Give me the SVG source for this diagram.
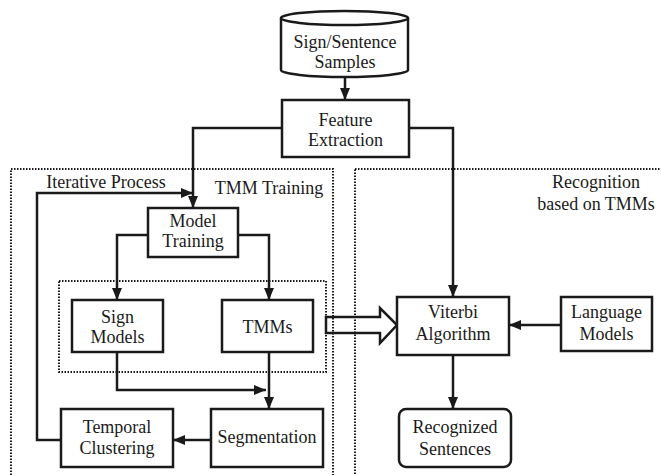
<svg xmlns="http://www.w3.org/2000/svg" width="661" height="475" viewBox="0 0 661 475">
<defs>
<marker id="ah" viewBox="0 0 12 10" refX="12" refY="5" markerWidth="12" markerHeight="10" markerUnits="userSpaceOnUse" orient="auto">
<path d="M0,0 L12,5 L0,10 Z" fill="#1a1a1a"/>
</marker>
</defs>
<style>
.box{fill:#fff;stroke:#1a1a1a;stroke-width:2.5}
.ln{fill:none;stroke:#1a1a1a;stroke-width:2.5}
.dot{fill:none;stroke:#1a1a1a;stroke-width:2;stroke-dasharray:1.5 1.5}
text{font-family:"Liberation Serif","Times New Roman",serif;font-size:18px;fill:#1a1a1a;text-anchor:middle}
</style>
<rect width="661" height="475" fill="#fff"/>
<g id="regions">
<rect class="dot" x="11" y="169" width="322" height="320"/>
<rect class="dot" x="355" y="169" width="320" height="320"/>
<rect class="dot" x="59" y="281" width="267" height="91"/>
<text x="106" y="188">Iterative Process</text>
<text x="269" y="194">TMM Training</text>
<text x="596" y="188">Recognition</text>
<text x="596" y="210">based on TMMs</text>
</g>
<g id="connectors">
<line class="ln" x1="345" y1="78" x2="345" y2="100" marker-end="url(#ah)"/>
<polyline class="ln" points="282,128 193,128 193,208" marker-end="url(#ah)"/>
<polyline class="ln" points="409,128 453,128 453,297" marker-end="url(#ah)"/>
<polyline class="ln" points="61,440 37,440 37,193 193,193" marker-end="url(#ah)"/>
<polyline class="ln" points="148,235 117,235 117,300" marker-end="url(#ah)"/>
<polyline class="ln" points="238,235 269,235 269,300" marker-end="url(#ah)"/>
<polyline class="ln" points="117,352 117,390 266,390" marker-end="url(#ah)"/>
<line class="ln" x1="269" y1="352" x2="269" y2="409" marker-end="url(#ah)"/>
<line class="ln" x1="211" y1="440" x2="173" y2="440" marker-end="url(#ah)"/>
<line class="ln" x1="561" y1="325" x2="509" y2="325" marker-end="url(#ah)"/>
<line class="ln" x1="453" y1="355" x2="453" y2="409" marker-end="url(#ah)"/>
<path class="ln" d="M326,317 L380,317 L380,308 L397,325 L380,343 L380,333 L326,333 Z" fill="#fff"/>
</g>
<g id="samples">
<path class="box" d="M281,18 L281,70 A63.5,7 0 0 0 408,70 L408,18"/>
<ellipse class="box" cx="344.5" cy="18" rx="63.5" ry="7"/>
<text x="345" y="48">Sign/Sentence</text>
<text x="345" y="68">Samples</text>
</g>
<g id="feature">
<rect class="box" x="282" y="100" width="127" height="57"/>
<text x="345.5" y="126">Feature</text>
<text x="345.5" y="146">Extraction</text>
</g>
<g id="modeltraining">
<rect class="box" x="148" y="208" width="90" height="49"/>
<text x="193" y="227">Model</text>
<text x="193" y="247">Training</text>
</g>
<g id="signmodels">
<rect class="box" x="72" y="300" width="91" height="52"/>
<text x="117.5" y="323">Sign</text>
<text x="117.5" y="343">Models</text>
</g>
<g id="tmms">
<rect class="box" x="222" y="300" width="91" height="52"/>
<text x="267.5" y="333">TMMs</text>
</g>
<g id="segmentation">
<rect class="box" x="211" y="409" width="112" height="58"/>
<text x="267" y="443">Segmentation</text>
</g>
<g id="clustering">
<rect class="box" x="61" y="409" width="112" height="58"/>
<text x="117" y="433">Temporal</text>
<text x="117" y="454">Clustering</text>
</g>
<g id="viterbi">
<rect class="box" x="397" y="297" width="112" height="58"/>
<text x="453" y="318">Viterbi</text>
<text x="453" y="340">Algorithm</text>
</g>
<g id="language">
<rect class="box" x="561" y="297" width="91" height="54"/>
<text x="606.5" y="318">Language</text>
<text x="606.5" y="340">Models</text>
</g>
<g id="recognized">
<rect class="box" x="399" y="409" width="112" height="58" rx="7"/>
<text x="455" y="433">Recognized</text>
<text x="455" y="455">Sentences</text>
</g>
</svg>
